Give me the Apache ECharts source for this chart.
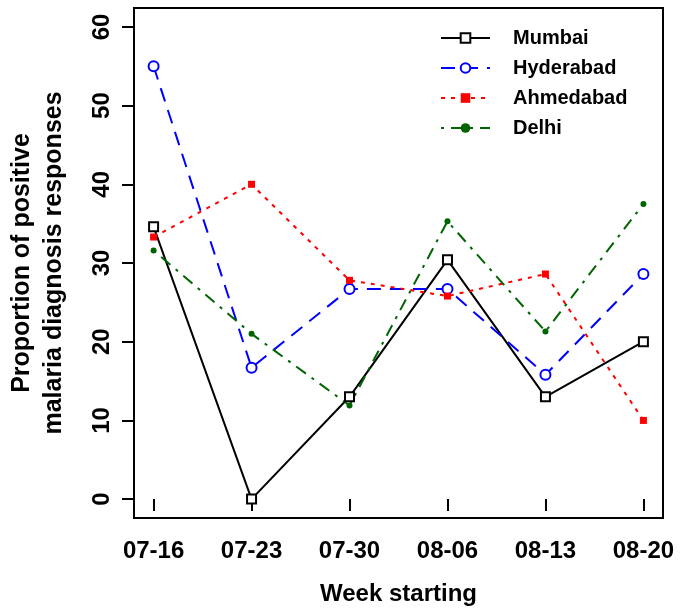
<!DOCTYPE html>
<html>
<head>
<meta charset="utf-8">
<script src="https://cdn.jsdelivr.net/npm/echarts@6/dist/echarts.min.js"></script>
<style>
html,body{margin:0;padding:0;background:#fff;}
#chart{width:685px;height:614px;}
</style>
</head>
<body>
<div id="chart"></div>
<script>
var weeks = ['07-16', '07-23', '07-30', '08-06', '08-13', '08-20'];
var mumbai = [34.6, 0, 13.0, 30.4, 13.0, 20.0];
var hyderabad = [55.0, 16.7, 26.7, 26.7, 15.8, 28.6];
var ahmedabad = [33.3, 40.0, 27.8, 25.8, 28.6, 10.0];
var delhi = [31.6, 21.0, 11.9, 35.3, 21.3, 37.5];
var yTicks = [0, 10, 20, 30, 40, 50, 60];
var xTicks = weeks.map(function (w, i) { return i + 1; });

function pairs(arr) { return arr.map(function (v, i) { return [i + 1, v]; }); }

var FONT = '"Liberation Sans", Arial, Helvetica, sans-serif';
var chart = echarts.init(document.getElementById('chart'));
chart.setOption({
  animation: false,
  backgroundColor: '#fff',
  textStyle: { fontFamily: FONT },
  grid: { left: 134, right: 22, top: 8, bottom: 96, show: true, borderColor: '#000', borderWidth: 2, backgroundColor: 'transparent' },
  xAxis: {
    type: 'value', min: 0.8, max: 6.2,
    axisLine: { show: false },
    splitLine: { show: false },
    axisTick: { show: true, customValues: xTicks, length: 12, lineStyle: { color: '#000', width: 2 } },
    axisLabel: {
      customValues: xTicks,
      formatter: function (v) { return weeks[Math.round(v) - 1]; },
      fontSize: 24, fontWeight: 'bold', color: '#000', fontFamily: FONT, margin: 21
    },
    name: 'Week starting', nameLocation: 'middle', nameGap: 64,
    nameTextStyle: { fontSize: 24, fontWeight: 'bold', color: '#000', fontFamily: FONT }
  },
  yAxis: {
    type: 'value', min: -2.4, max: 62.4,
    axisLine: { show: false },
    splitLine: { show: false },
    axisTick: { show: true, customValues: yTicks, length: 12, lineStyle: { color: '#000', width: 2 } },
    axisLabel: {
      customValues: yTicks, rotate: 90,
      fontSize: 24, fontWeight: 'bold', color: '#000', fontFamily: FONT, margin: 20
    }
  },
  graphic: [
    { type: 'text', x: 22, y: 263, rotation: Math.PI / 2,
      style: { text: 'Proportion of positive', font: 'bold 25px ' + FONT, fill: '#000', textAlign: 'center', textVerticalAlign: 'middle' } },
    { type: 'text', x: 54, y: 263, rotation: Math.PI / 2,
      style: { text: 'malaria diagnosis responses', font: 'bold 25px ' + FONT, fill: '#000', textAlign: 'center', textVerticalAlign: 'middle' } }
  ],
  legend: {
    orient: 'vertical', left: 435, top: 23,
    itemWidth: 49, itemHeight: 12, itemGap: 10,
    textStyle: { fontSize: 20, fontWeight: 'bold', color: '#000', fontFamily: FONT, lineHeight: 20, padding: [0, 0, 0, 18] },
    data: ['Mumbai', 'Hyderabad', 'Ahmedabad', 'Delhi']
  },
  series: [
    { name: 'Mumbai', type: 'line', data: pairs(mumbai), symbol: 'emptyRect', symbolSize: 9,
      lineStyle: { color: '#000', width: 2, type: 'solid' }, itemStyle: { color: '#000', borderWidth: 2 } },
    { name: 'Hyderabad', type: 'line', data: pairs(hyderabad), symbol: 'emptyCircle', symbolSize: 10,
      lineStyle: { color: '#0000FF', width: 2, type: [14, 9] }, itemStyle: { color: '#0000FF', borderWidth: 2 } },
    { name: 'Ahmedabad', type: 'line', data: pairs(ahmedabad), symbol: 'rect', symbolSize: 7,
      lineStyle: { color: '#FF0000', width: 2, type: [4, 6] }, itemStyle: { color: '#FF0000' } },
    { name: 'Delhi', type: 'line', data: pairs(delhi), symbol: 'circle', symbolSize: 6,
      lineStyle: { color: '#006400', width: 2, type: [3, 7, 12, 7] }, itemStyle: { color: '#006400' } }
  ]
});
</script>
</body>
</html>
